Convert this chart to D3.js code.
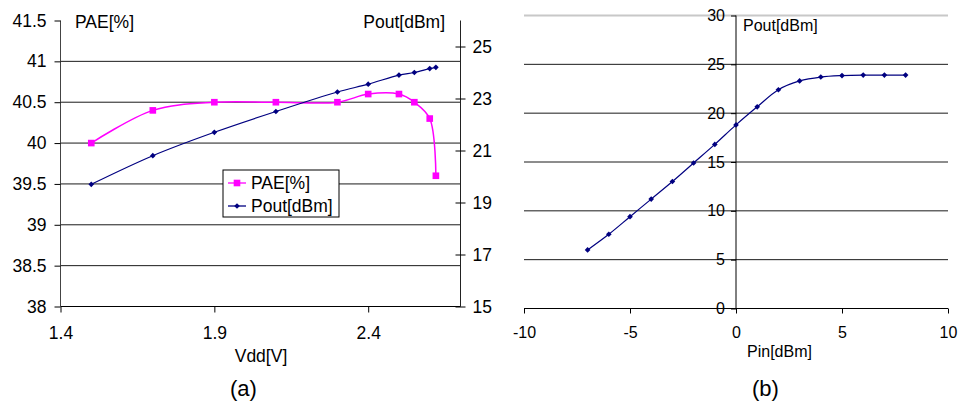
<!DOCTYPE html>
<head>
  <meta charset="utf-8">
  <script src="https://d3js.org/d3.v7.min.js"></script>
  <style>
    body {
      margin: 0;
      background: #fff;
    }

    svg {
      font-family: "Liberation Sans", Arial, sans-serif;
    }

    .axis path {
      display: none;
    }

    .axis line {
      stroke: #000;
    }

    .grid line {
      stroke: #1a1a1a;
      stroke-width: 1;
    }

    .line {
      fill: none;
    }
  </style>
</head>

<body>
  <svg id="chart" width="959" height="406"></svg>

  <script>
    // (a) PAE and Pout against Vdd
    var vdd = [1.5, 1.7, 1.9, 2.1, 2.3, 2.4, 2.5, 2.55, 2.6, 2.62];
    var pae = [40.0, 40.4, 40.5, 40.5, 40.5, 40.6, 40.6, 40.5, 40.3, 39.6];
    var poutVdd = [19.7, 20.8, 21.7, 22.5, 23.25, 23.55, 23.9, 24.0, 24.15, 24.2];
    var paeTicks = [38, 38.5, 39, 39.5, 40, 40.5, 41, 41.5];
    var poutTicks = [15, 17, 19, 21, 23, 25];
    var vddTicks = [1.4, 1.9, 2.4];

    // (b) Pout against Pin
    var pin = [-7, -6, -5, -4, -3, -2, -1, 0, 1, 2, 3, 4, 5, 6, 7, 8];
    var poutPin = [6.0, 7.6, 9.4, 11.2, 13.0, 14.9, 16.8, 18.8, 20.65, 22.4, 23.3, 23.7, 23.85, 23.9, 23.9, 23.9];
    var pinTicks = [-10, -5, 0, 5, 10];
    var poutPinTicks = [0, 5, 10, 15, 20, 25, 30];

    var svg = d3.select("#chart");

    var square = d3.symbol().type(d3.symbolSquare).size(44);
    var diamond = d3.symbol().type(d3.symbolSquare).size(16);

    // ---------- chart (a) ----------
    var fa = 17.5;
    var xL = d3.scaleLinear().domain([1.4, 2.7]).range([60.5, 460.5]);
    var yL = d3.scaleLinear().domain([38, 41.5]).range([306.5, 20.5]);
    var yR = d3.scaleLinear().domain([15, 26]).range([306.5, 20.5]);

    var ga = svg.append("g").style("font-size", fa + "px");

    ga.append("g")
      .attr("class", "grid")
      .selectAll("line")
      .data(paeTicks.filter(d => d > 38 && d < 41.5))
      .join("line")
      .attr("x1", xL.range()[0])
      .attr("x2", xL.range()[1])
      .attr("y1", d => yL(d))
      .attr("y2", d => yL(d));

    ga.append("line")
      .attr("x1", xL.range()[0]).attr("x2", xL.range()[1])
      .attr("y1", yL(38)).attr("y2", yL(38))
      .attr("stroke", "#000");
    ga.append("line")
      .attr("x1", xL.range()[0]).attr("x2", xL.range()[0])
      .attr("y1", yL(38)).attr("y2", yL(41.5))
      .attr("stroke", "#444");
    ga.append("line")
      .attr("x1", xL.range()[1]).attr("x2", xL.range()[1])
      .attr("y1", yL(38)).attr("y2", yL(41.5))
      .attr("stroke", "#222");

    ga.append("g")
      .attr("class", "axis")
      .attr("transform", "translate(" + xL.range()[0] + ",0)")
      .call(d3.axisLeft(yL).tickValues(paeTicks).tickFormat(String).tickSize(6).tickPadding(8))
      .call(g => g.selectAll("text").attr("font-size", fa).attr("fill", "#000"));

    ga.append("g")
      .attr("class", "axis")
      .attr("transform", "translate(" + xL.range()[1] + ",0)")
      .call(d3.axisRight(yR).tickValues(poutTicks).tickFormat(String).tickSize(5).tickPadding(7))
      .call(g => g.selectAll("line").attr("x1", -5))
      .call(g => g.selectAll("text").attr("font-size", fa).attr("fill", "#000"));

    ga.append("g")
      .attr("class", "axis")
      .attr("transform", "translate(0," + yL(38) + ")")
      .call(d3.axisBottom(xL).tickValues(vddTicks).tickFormat(d => d.toFixed(1)).tickSize(6).tickPadding(14))
      .call(g => g.selectAll("text").attr("font-size", fa).attr("fill", "#000"));

    var lineL = d3.line()
      .curve(d3.curveCatmullRom)
      .x((d, i) => xL(vdd[i]))
      .y(d => yL(d));

    var lineR = d3.line()
      .curve(d3.curveCatmullRom)
      .x((d, i) => xL(vdd[i]))
      .y(d => yR(d));

    ga.append("path")
      .attr("class", "line")
      .attr("stroke", "#ff00ff")
      .attr("stroke-width", 1.5)
      .attr("d", lineL(pae));

    ga.append("path")
      .attr("class", "line")
      .attr("stroke", "#000080")
      .attr("stroke-width", 1.2)
      .attr("d", lineR(poutVdd));

    ga.selectAll(".paeDot")
      .data(pae)
      .join("path")
      .attr("class", "paeDot")
      .attr("fill", "#ff00ff")
      .attr("transform", (d, i) => "translate(" + xL(vdd[i]) + "," + yL(d) + ")")
      .attr("d", square);

    ga.selectAll(".poutDot")
      .data(poutVdd)
      .join("path")
      .attr("class", "poutDot")
      .attr("fill", "#000080")
      .attr("transform", (d, i) => "translate(" + xL(vdd[i]) + "," + yR(d) + ") rotate(45)")
      .attr("d", diamond);

    ga.append("text").attr("x", 75).attr("y", 28).text("PAE[%]");
    ga.append("text").attr("x", 445).attr("y", 28).attr("text-anchor", "end").text("Pout[dBm]");
    ga.append("text").attr("x", 261).attr("y", 362).attr("text-anchor", "middle").text("Vdd[V]");
    ga.append("text").attr("x", 243.5).attr("y", 396).attr("text-anchor", "middle")
      .style("font-size", "22px").text("(a)");

    // legend
    var legend = ga.append("g");
    legend.append("rect")
      .attr("x", 223).attr("y", 170).attr("width", 116).attr("height", 47)
      .attr("fill", "#fff").attr("stroke", "#000");

    var items = [
      { name: "PAE[%]", color: "#ff00ff", sym: square, rot: "" },
      { name: "Pout[dBm]", color: "#000080", sym: diamond, rot: " rotate(45)" }
    ];
    var item = legend.selectAll(".legend")
      .data(items)
      .join("g")
      .attr("class", "legend")
      .attr("transform", (d, i) => "translate(0," + (183 + i * 23) + ")");
    item.append("line")
      .attr("x1", 228).attr("x2", 246)
      .attr("stroke", d => d.color)
      .attr("stroke-width", 1.3);
    item.append("path")
      .attr("fill", d => d.color)
      .attr("transform", d => "translate(237,0)" + d.rot)
      .attr("d", d => d.sym());
    item.append("text")
      .attr("x", 251)
      .attr("dy", "0.35em")
      .text(d => d.name);

    // ---------- chart (b) ----------
    var fb = 16;
    var xB = d3.scaleLinear().domain([-10, 10]).range([524, 948]);
    var yB = d3.scaleLinear().domain([0, 30]).range([308.5, 15.5]);

    var gb = svg.append("g").style("font-size", fb + "px");

    gb.append("g")
      .attr("class", "grid")
      .selectAll("line")
      .data(poutPinTicks.filter(d => d > 0))
      .join("line")
      .attr("x1", xB.range()[0])
      .attr("x2", xB.range()[1])
      .attr("y1", d => yB(d))
      .attr("y2", d => yB(d))
      .style("stroke", d => d === 30 ? "#c8c8c8" : null)
      .style("stroke-width", d => d === 30 ? 2 : null);

    gb.append("line")
      .attr("x1", xB.range()[0]).attr("x2", xB.range()[1])
      .attr("y1", yB(0)).attr("y2", yB(0))
      .attr("stroke", "#000");
    gb.append("line")
      .attr("x1", xB(0)).attr("x2", xB(0))
      .attr("y1", yB(0)).attr("y2", yB(30))
      .attr("stroke", "#000");

    gb.append("g")
      .attr("class", "axis")
      .attr("transform", "translate(" + xB(0) + ",0)")
      .call(d3.axisLeft(yB).tickValues(poutPinTicks).tickFormat(String).tickSize(5).tickPadding(6))
      .call(g => g.selectAll("text").attr("font-size", fb).attr("fill", "#000"));

    gb.append("g")
      .attr("class", "axis")
      .attr("transform", "translate(0," + yB(0) + ")")
      .call(d3.axisBottom(xB).tickValues(pinTicks).tickFormat(String).tickSize(5).tickPadding(13))
      .call(g => g.selectAll("text").attr("font-size", fb).attr("fill", "#000"));

    var lineB = d3.line()
      .curve(d3.curveCatmullRom)
      .x((d, i) => xB(pin[i]))
      .y(d => yB(d));

    gb.append("path")
      .attr("class", "line")
      .attr("stroke", "#000080")
      .attr("stroke-width", 1.2)
      .attr("d", lineB(poutPin));

    gb.selectAll(".pinDot")
      .data(poutPin)
      .join("path")
      .attr("class", "pinDot")
      .attr("fill", "#000080")
      .attr("transform", (d, i) => "translate(" + xB(pin[i]) + "," + yB(d) + ") rotate(45)")
      .attr("d", diamond);

    gb.append("text").attr("x", 743).attr("y", 31).text("Pout[dBm]");
    gb.append("text").attr("x", 747).attr("y", 357).text("Pin[dBm]");
    gb.append("text").attr("x", 765.5).attr("y", 396).attr("text-anchor", "middle")
      .style("font-size", "22px").text("(b)");
  </script>
</body>
